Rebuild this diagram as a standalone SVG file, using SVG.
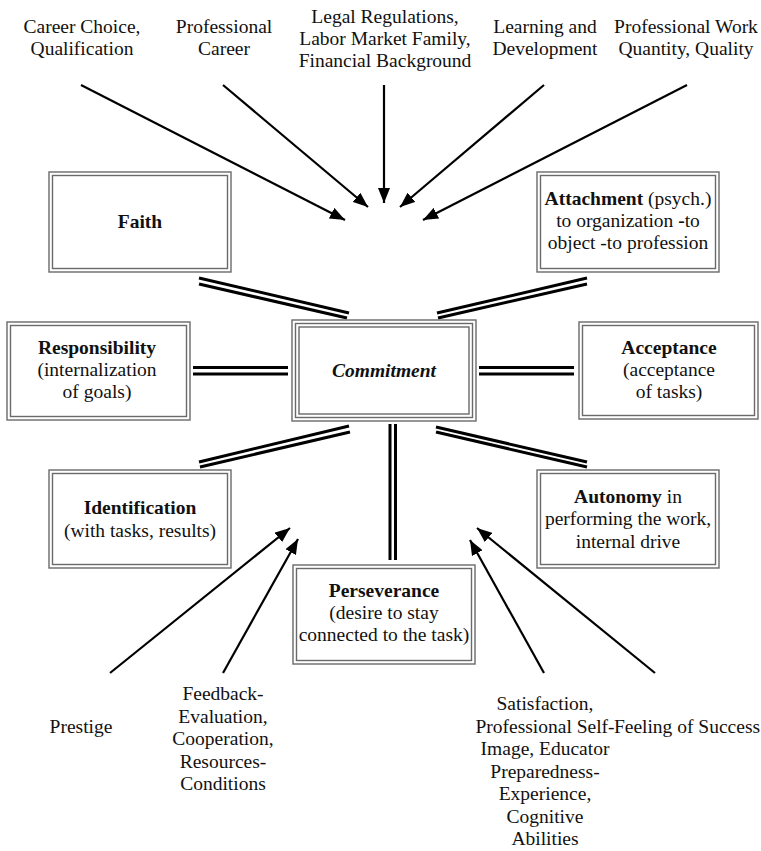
<svg xmlns="http://www.w3.org/2000/svg" width="761" height="851" viewBox="0 0 761 851">
  <style>
    text { font-family: "Times New Roman", Tinos, "Liberation Serif", serif; font-size: 19.5px; fill: #111; text-anchor: middle; }
    .b { font-weight: bold; }
    .bi { font-weight: bold; font-style: italic; }
    .frame { fill: none; stroke: #6a6a6a; stroke-width: 1.4; }
    .dbl { stroke: #000; stroke-width: 3; }
    .arr { stroke: #000; stroke-width: 2.2; fill: none; marker-end: url(#head); }
  </style>
  <defs>
    <marker id="head" markerUnits="userSpaceOnUse" markerWidth="16" markerHeight="12" refX="15" refY="6" orient="auto">
      <path d="M0,0 L15,6 L0,12 z" fill="#000"/>
    </marker>
  </defs>
  <rect width="761" height="851" fill="#fff"/>

  <!-- influencing factors, top row -->
  <g id="factors-top">
    <text x="82" y="33">Career Choice,</text>
    <text x="82" y="55">Qualification</text>
    <text x="224" y="33">Professional</text>
    <text x="224" y="55">Career</text>
    <text x="385" y="23">Legal Regulations,</text>
    <text x="385" y="45">Labor Market Family,</text>
    <text x="385" y="67">Financial Background</text>
    <text x="545" y="33">Learning and</text>
    <text x="545" y="55">Development</text>
    <text x="686" y="33">Professional Work</text>
    <text x="686" y="55">Quantity, Quality</text>
  </g>

  <!-- influencing factors, bottom row -->
  <g id="factors-bottom">
    <text x="81" y="733">Prestige</text>
    <text x="223" y="700">Feedback-</text>
    <text x="223" y="722.5">Evaluation,</text>
    <text x="223" y="745">Cooperation,</text>
    <text x="223" y="767.5">Resources-</text>
    <text x="223" y="790">Conditions</text>
    <text x="545" y="710">Satisfaction,</text>
    <text x="545" y="732.5">Professional Self-</text>
    <text x="545" y="755">Image, Educator</text>
    <text x="545" y="777.5">Preparedness-</text>
    <text x="545" y="800">Experience,</text>
    <text x="545" y="822.5">Cognitive</text>
    <text x="545" y="845">Abilities</text>
    <text x="687" y="732.5">Feeling of Success</text>
  </g>

  <!-- connectors -->
  <g id="connectors">
    <!-- arrows from the factors -->
    <line class="arr" x1="81" y1="85" x2="345" y2="220"/>
    <line class="arr" x1="223" y1="85" x2="368" y2="207"/>
    <line class="arr" x1="384" y1="85" x2="384" y2="203"/>
    <line class="arr" x1="544" y1="85" x2="400" y2="207"/>
    <line class="arr" x1="687" y1="85" x2="423" y2="220"/>
    <line class="arr" x1="110" y1="673" x2="290" y2="528"/>
    <line class="arr" x1="223" y1="673" x2="298" y2="539"/>
    <line class="arr" x1="544" y1="673" x2="470" y2="540"/>
    <line class="arr" x1="655" y1="673" x2="477" y2="528"/>

    <!-- double links to the centre -->
    <line class="dbl" x1="199" y1="278" x2="349" y2="313"/>
    <line class="dbl" x1="199" y1="284" x2="347" y2="318"/>
    <line class="dbl" x1="437" y1="313" x2="587" y2="278"/>
    <line class="dbl" x1="438" y1="318" x2="587" y2="284"/>
    <line class="dbl" x1="193" y1="367.5" x2="288" y2="367.5"/>
    <line class="dbl" x1="193" y1="374" x2="288" y2="374"/>
    <line class="dbl" x1="479" y1="367.5" x2="574" y2="367.5"/>
    <line class="dbl" x1="479" y1="374" x2="574" y2="374"/>
    <line class="dbl" x1="199" y1="462" x2="349" y2="426"/>
    <line class="dbl" x1="200" y1="467" x2="350" y2="432"/>
    <line class="dbl" x1="436" y1="427" x2="587" y2="462"/>
    <line class="dbl" x1="436" y1="432" x2="587" y2="467"/>
    <line class="dbl" x1="390" y1="424" x2="390" y2="560"/>
    <line class="dbl" x1="395.5" y1="424" x2="395.5" y2="560"/>
  </g>

  <g id="faith">
    <rect class="frame" x="49" y="172" width="182" height="100"/>
    <rect class="frame" x="52.5" y="175.5" width="175" height="93"/>
    <text class="b" x="140" y="228">Faith</text>
  </g>

  <g id="attachment">
    <rect class="frame" x="537" y="172" width="182" height="100"/>
    <rect class="frame" x="540.5" y="175.5" width="175" height="93"/>
    <text x="628" y="205"><tspan class="b">Attachment</tspan> (psych.)</text>
    <text x="628" y="227">to organization <tspan class="b">-</tspan>to</text>
    <text x="628" y="249">object -to profession</text>
  </g>

  <g id="responsibility">
    <rect class="frame" x="7" y="322" width="183" height="98"/>
    <rect class="frame" x="10.5" y="325.5" width="176" height="91"/>
    <text class="b" x="97" y="354">Responsibility</text>
    <text x="97" y="376">(internalization</text>
    <text x="97" y="398">of goals)</text>
  </g>

  <g id="commitment">
    <rect class="frame" x="292" y="320" width="184" height="101"/>
    <rect class="frame" x="295.5" y="323.5" width="177" height="94"/>
    <rect class="frame" x="299" y="327" width="170" height="87"/>
    <text class="bi" x="384" y="377">Commitment</text>
  </g>

  <g id="acceptance">
    <rect class="frame" x="579" y="322" width="179" height="97"/>
    <rect class="frame" x="582.5" y="325.5" width="172" height="90"/>
    <text class="b" x="669" y="354">Acceptance</text>
    <text x="669" y="376">(acceptance</text>
    <text x="669" y="398">of tasks)</text>
  </g>

  <g id="identification">
    <rect class="frame" x="49" y="470" width="182" height="98"/>
    <rect class="frame" x="52.5" y="473.5" width="175" height="91"/>
    <text class="b" x="140" y="514">Identification</text>
    <text x="140" y="537">(with tasks, results)</text>
  </g>

  <g id="autonomy">
    <rect class="frame" x="537" y="470" width="182" height="98"/>
    <rect class="frame" x="540.5" y="473.5" width="175" height="91"/>
    <text x="628" y="503"><tspan class="b">Autonomy</tspan> in</text>
    <text x="628" y="525">performing the work,</text>
    <text x="628" y="548">internal drive</text>
  </g>

  <g id="perseverance">
    <rect class="frame" x="293" y="565" width="182" height="99"/>
    <rect class="frame" x="296.5" y="568.5" width="175" height="92"/>
    <text class="b" x="384" y="597">Perseverance</text>
    <text x="384" y="619">(desire to stay</text>
    <text x="384" y="641">connected to the task)</text>
  </g>
</svg>
